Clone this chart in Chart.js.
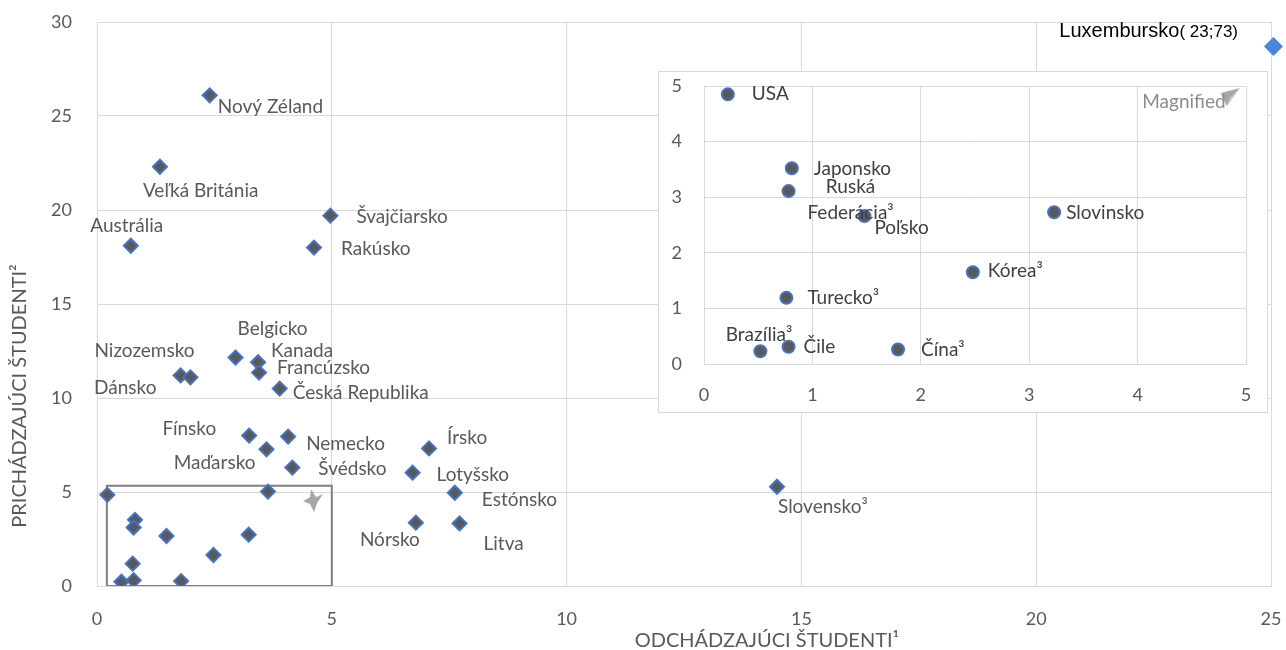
<!DOCTYPE html>
<html><head><meta charset="utf-8">
<script src="https://cdn.jsdelivr.net/npm/chart.js@4/dist/chart.umd.min.js"></script>
<style>
html,body{margin:0;padding:0;background:#fff;}
#wrap{position:relative;width:1286px;height:650px;overflow:hidden;}
#main{position:absolute;left:0;top:0;}
#insetBox{position:absolute;left:658px;top:71px;width:610px;height:342px;box-sizing:border-box;border:1px solid #d9d9d9;background:#fff;}
#inset{display:block;}
</style></head><body>
<div id="wrap">
<canvas id="main" width="1286" height="650"></canvas>
<div id="insetBox"><canvas id="inset" width="608" height="340"></canvas></div>
</div>
<script>
// ---------- DATA ----------
const mainCountries = ['Nový Zéland','Veľká Británia','Austrália','Švajčiarsko','Rakúsko','Belgicko','Kanada','Francúzsko','Nizozemsko','Dánsko','Česká Republika','Fínsko','Nemecko','Maďarsko','Švédsko','Írsko','Lotyšsko','Estónsko','Nórsko','Litva','Slovensko³',''];
const mainOutgoing  = [2.40, 1.34, 0.72, 4.97, 4.62, 2.95, 3.43, 3.45, 1.78, 1.99, 3.89, 3.24, 4.07, 3.61, 4.16, 7.07, 6.72, 7.62, 6.79, 7.72, 14.48, 3.64];
const mainIncoming  = [26.1, 22.3, 18.1, 19.7, 18.0, 12.15, 11.9, 11.35, 11.2, 11.1, 10.5, 8.0, 7.95, 7.27, 6.3, 7.32, 6.03, 4.96, 3.37, 3.33, 5.28, 5.02];

const zoomCountries = ['USA','Japonsko','Ruská Federácia³','Poľsko','Slovinsko','Kórea³','Turecko³','Brazília³','Čile','Čína³'];
const zoomOutgoing  = [0.22, 0.81, 0.78, 1.48, 3.23, 2.48, 0.76, 0.52, 0.78, 1.79];
const zoomIncoming  = [4.85, 3.52, 3.11, 2.66, 2.73, 1.65, 1.19, 0.23, 0.31, 0.26];

const luxCountry = 'Luxembursko';
const luxValueText = '( 23;73)';
const luxOutgoing = [25.05];
const luxIncoming = [28.7];

const zoomBoxX = [0.21, 5];
const zoomBoxY = [0, 5.33];

const mainXTicks = [0, 5, 10, 15, 20, 25];
const mainYTicks = [0, 5, 10, 15, 20, 25, 30];
const zoomXTicks = [0, 1, 2, 3, 4, 5];
const zoomYTicks = [0, 1, 2, 3, 4, 5];

const xTitle = 'ODCHÁDZAJÚCI ŠTUDENTI¹';
const yTitle = 'PRICHÁDZAJÚCI ŠTUDENTI²';
const magnifiedText = 'Magnified';

// ---------- LABEL PLACEMENT (dx, dy, align[, lineGap]) ----------
const mainLabelOffsets = [
  [8,12,'left'],[-17,24,'left'],[-4,-20,'center'],[26,1,'left'],[27,1,'left'],
  [2,-29,'left'],[13,-11,'left'],[18,-5,'left'],[14,-25,'right'],[-34,11,'right'],
  [13,4,'left'],[-33,-7,'right'],[18,7,'left'],[-11,14,'right'],[26,1,'left'],
  [18,-11,'left'],[24,2,'left'],[27,7,'left'],[4,17,'right'],[24,20,'left'],
  [1,20,'left'],null
];
const zoomLabelOffsets = [
  [24,0,'left'],[22,1,'left'],[62,-4,'center',26],[10,12,'left'],[12,1,'left'],
  [15,-1,'left'],[21,0,'left'],[32,-16,'right'],[15,0,'left'],[23,0,'left']
];

// ---------- HELPERS ----------
const pts = (xs, ys) => xs.map((x, i) => ({x, y: ys[i]}));
const setTicks = arr => s => { s.ticks = arr.map(v => ({value: v})); };
const fitX = h => s => { s.height = h; s.paddingLeft = 0; s.paddingRight = 0; };
const fitY = w => s => { s.width = w; s.paddingTop = 0; s.paddingBottom = 0; };
const GRID = '#d9d9d9', TXT = '#595959';

function starStyle() {
  const c = document.createElement('canvas'); c.width = 26; c.height = 28;
  const g = c.getContext('2d'); const cx = 13, cy = 14;
  g.fillStyle = '#a6a6a6'; g.beginPath();
  g.moveTo(cx-10, cy+1); g.lineTo(cx-3, cy-3); g.lineTo(cx-2, cy-11); g.lineTo(cx+3, cy-3);
  g.lineTo(cx+10, cy-6); g.lineTo(cx+4, cy+3); g.lineTo(cx+1, cy+12); g.lineTo(cx-3, cy+4);
  g.closePath(); g.fill(); return c;
}
function triStyle() {
  const c = document.createElement('canvas'); c.width = 26; c.height = 24;
  const g = c.getContext('2d'); const cx = 13, cy = 12;
  g.fillStyle = '#a6a6a6'; g.beginPath();
  g.moveTo(cx+11, cy-8); g.lineTo(cx-8, cy-3); g.lineTo(cx-2, cy+10); g.closePath(); g.fill();
  g.fillStyle = '#c8c8c8'; g.beginPath();
  g.moveTo(cx+11, cy-8); g.lineTo(cx-2, cy+10); g.lineTo(cx+1, cy+2); g.closePath(); g.fill();
  return c;
}

const labelPlugin = {
  id: 'pointLabels',
  afterDatasetsDraw(chart) {
    const ctx = chart.ctx;
    chart.data.datasets.forEach((ds, di) => {
      const meta = chart.getDatasetMeta(di);
      if (ds.pointLabels) {
        ctx.save();
        ctx.font = ds.labelFont; ctx.fillStyle = ds.labelColor; ctx.textBaseline = 'middle';
        meta.data.forEach((el, i) => {
          const txt = ds.pointLabels[i]; const o = ds.labelOffsets[i];
          if (!txt || !o) return;
          ctx.textAlign = o[2];
          const lines = o[3] ? txt.split(' ') : [txt];
          lines.forEach((ln, k) => ctx.fillText(ln, el.x + o[0], el.y + o[1] + k * (o[3] || 0)));
        });
        ctx.restore();
      }
      if (ds.richLabel) {
        const el = meta.data[0]; const r = ds.richLabel;
        ctx.save(); ctx.textBaseline = 'middle'; ctx.textAlign = 'left'; ctx.fillStyle = '#000';
        let x = el.x + r.dx; const y = el.y + r.dy;
        ctx.font = r.font1; ctx.fillText(r.t1, x, y); x += ctx.measureText(r.t1).width;
        ctx.font = r.font2; ctx.fillText(r.t2, x, y + 1);
        ctx.restore();
      }
    });
  }
};
const titlePlugin = {
  id: 'axisTitles',
  afterDraw(chart) {
    const o = chart.options.plugins.axisTitles; if (!o) return;
    const ctx = chart.ctx; ctx.save();
    ctx.font = '20px Lato'; ctx.fillStyle = TXT; ctx.textAlign = 'center'; ctx.textBaseline = 'middle';
    ctx.fillText(o.x, o.xPos[0], o.xPos[1]);
    ctx.translate(o.yPos[0], o.yPos[1]); ctx.rotate(-Math.PI / 2); ctx.fillText(o.y, 0, 0);
    ctx.restore();
  }
};

// ---------- MAIN CHART ----------
const tickFont = {family: 'Lato', size: 18};
new Chart(document.getElementById('main'), {
  type: 'scatter',
  data: { datasets: [
    { data: pts(mainOutgoing.concat(zoomOutgoing), mainIncoming.concat(zoomIncoming)),
      pointStyle: 'rectRot', pointRadius: 7, pointBackgroundColor: '#595959', pointBorderColor: '#4472c4', pointBorderWidth: 2,
      pointLabels: mainCountries, labelOffsets: mainLabelOffsets, labelFont: '19px Lato', labelColor: TXT },
    { data: pts(luxOutgoing, luxIncoming), clip: false,
      pointStyle: 'rectRot', pointRadius: 9, pointBackgroundColor: '#4a86d8', pointBorderColor: '#4a86d8', pointBorderWidth: 1,
      richLabel: {t1: luxCountry, t2: luxValueText, font1: '20px "Liberation Sans"', font2: '17px "Liberation Sans"', dx: -214, dy: -15} },
    { data: [{x: 4.6, y: 4.57}], pointStyle: starStyle(), pointRadius: 10 },
    { data: pts([zoomBoxX[0], zoomBoxX[1], zoomBoxX[1], zoomBoxX[0], zoomBoxX[0]], [zoomBoxY[0], zoomBoxY[0], zoomBoxY[1], zoomBoxY[1], zoomBoxY[0]]),
      showLine: true, borderColor: '#7f7f7f', borderWidth: 2, pointRadius: 0, fill: false }
  ]},
  options: {
    responsive: false, animation: false,
    layout: {padding: {left: 0, top: 22, right: 15, bottom: 0}},
    plugins: { legend: {display: false}, tooltip: {enabled: false},
      axisTitles: {x: xTitle, y: yTitle, xPos: [767, 641], yPos: [20, 396]} },
    scales: {
      x: { type: 'linear', min: 0, max: 25, afterBuildTicks: setTicks(mainXTicks), afterFit: fitX(64),
           grid: {color: GRID, drawTicks: false}, border: {color: GRID},
           ticks: {padding: 22, font: tickFont, color: TXT} },
      y: { type: 'linear', min: 0, max: 30, afterBuildTicks: setTicks(mainYTicks), afterFit: fitY(97),
           grid: {color: GRID, drawTicks: false}, border: {color: GRID},
           ticks: {padding: 25, font: tickFont, color: TXT} }
    }
  },
  plugins: [labelPlugin, titlePlugin]
});

// ---------- INSET CHART ----------
new Chart(document.getElementById('inset'), {
  type: 'scatter',
  data: { datasets: [
    { data: pts(zoomOutgoing, zoomIncoming),
      pointStyle: 'circle', pointRadius: 6, pointBackgroundColor: '#595959', pointBorderColor: '#4472c4', pointBorderWidth: 2,
      pointLabels: zoomCountries, labelOffsets: zoomLabelOffsets,
      labelFont: '19px Lato', labelColor: '#404040' },
    { data: [{x: 4.84, y: 4.82}], pointStyle: triStyle(), pointRadius: 10,
      pointLabels: [magnifiedText], labelOffsets: [[-3, 6, 'right']], labelFont: '19px Lato', labelColor: '#8c8c8c' }
  ]},
  options: {
    responsive: false, animation: false,
    layout: {padding: {left: 0, top: 14, right: 21, bottom: 0}},
    plugins: { legend: {display: false}, tooltip: {enabled: false} },
    scales: {
      x: { type: 'linear', min: 0, max: 5, afterBuildTicks: setTicks(zoomXTicks), afterFit: fitX(48),
           grid: {color: GRID, drawTicks: false}, border: {color: GRID},
           ticks: {padding: 20, font: tickFont, color: TXT} },
      y: { type: 'linear', min: 0, max: 5, afterBuildTicks: setTicks(zoomYTicks), afterFit: fitY(45),
           grid: {color: GRID, drawTicks: false}, border: {color: GRID},
           ticks: {padding: 22, font: tickFont, color: TXT} }
    }
  },
  plugins: [labelPlugin]
});
</script>
</body></html>
